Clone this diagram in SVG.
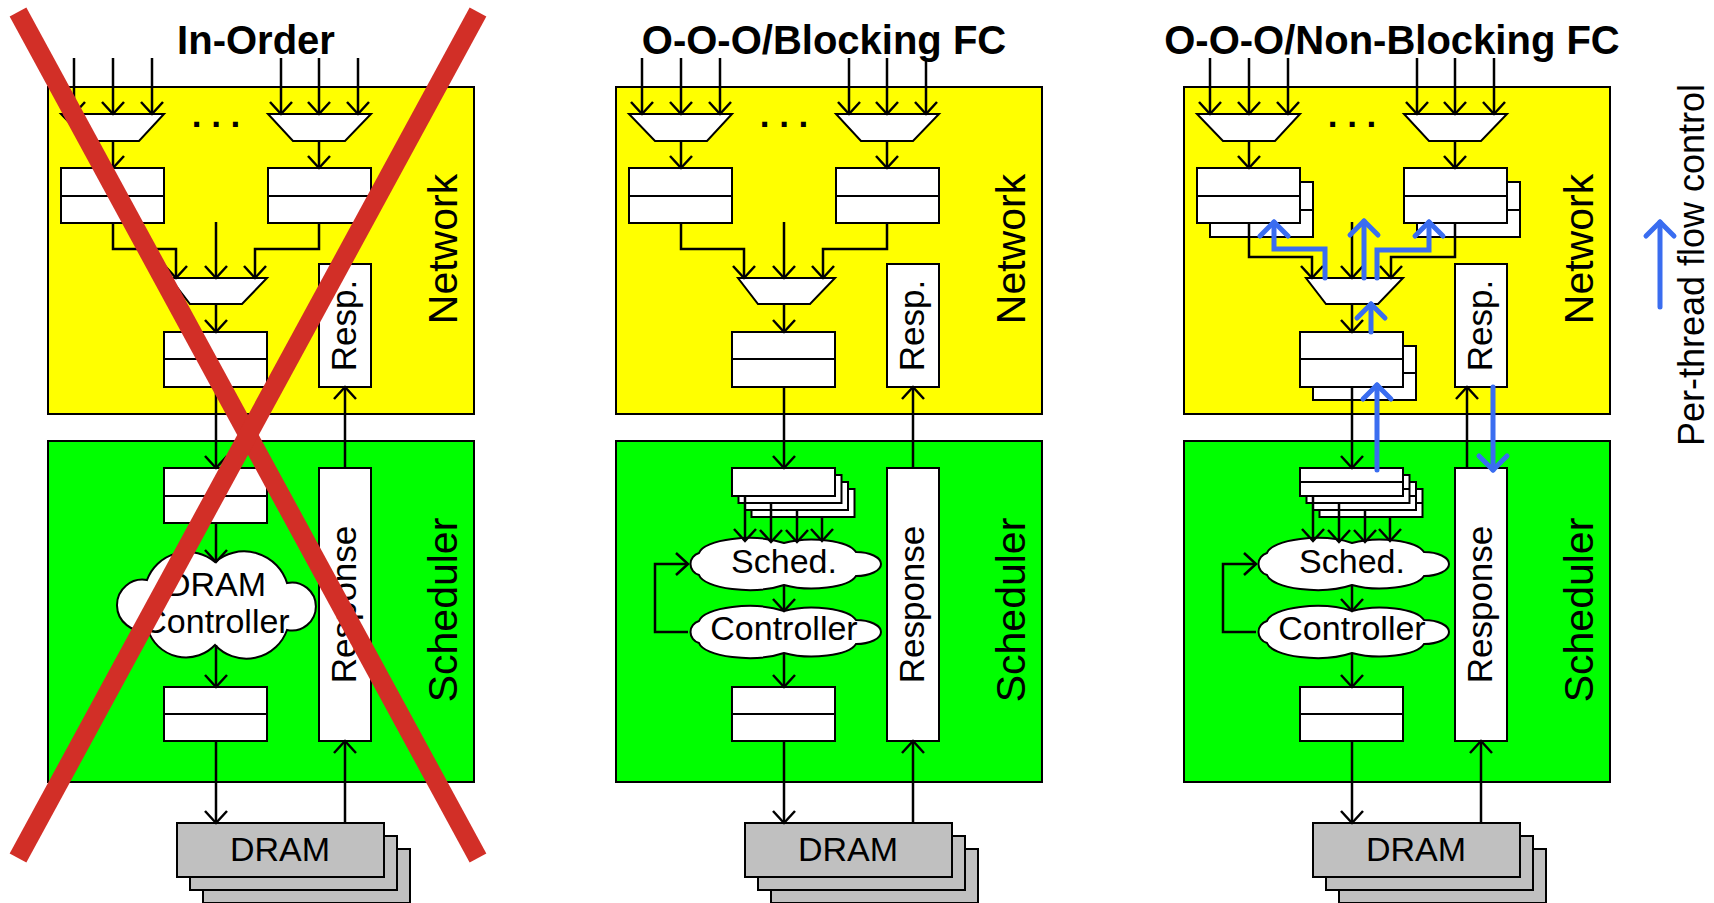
<svg xmlns="http://www.w3.org/2000/svg" xmlns:xlink="http://www.w3.org/1999/xlink" width="1714" height="903" viewBox="0 0 1714 903">
<style>
.box{stroke:#000;stroke-width:2}
.net{fill:#ffff00}
.sch{fill:#00ff00}
.w{fill:#fff;stroke:#000;stroke-width:2}
.dram{fill:#c0c0c0;stroke:#000;stroke-width:2}
.c{fill:none;stroke:#000;stroke-width:2.5;marker-end:url(#ah)}
.b{fill:none;stroke:#3a6df0;stroke-width:5;stroke-linecap:round;marker-end:url(#bh)}
.x{stroke:#d22f27;stroke-width:19}
text{font-family:"Liberation Sans",Arial,sans-serif;fill:#000}
.title{font-size:40px;font-weight:bold;text-anchor:middle}
.lbl{font-size:41px;text-anchor:middle}
.in{font-size:34px;text-anchor:middle}
.rs{font-size:35px;text-anchor:middle}
.dots{font-size:35px;font-weight:bold;text-anchor:middle}
.leg{font-size:36px;text-anchor:middle}
</style>
<defs>
<marker id="ah" markerUnits="userSpaceOnUse" orient="auto" markerWidth="30" markerHeight="30" refX="0" refY="0" overflow="visible">
<path d="M-12,-11 L0,0 L-12,11" fill="none" stroke="#000" stroke-width="2.5"/>
</marker>
<marker id="bh" markerUnits="userSpaceOnUse" orient="auto" markerWidth="30" markerHeight="30" refX="0" refY="0" overflow="visible">
<path d="M-14,-14 L0,0 L-14,14" fill="none" stroke="#3a6df0" stroke-width="5" stroke-linecap="round" stroke-linejoin="round"/>
</marker>
<path id="cf" class="w" d="M-85,11 A12,11.5 0 0 1 -85,-11 A50,17 0 0 1 0,-21 A45,16 0 0 1 72,-12 A25,12 0 0 1 72,12 A45,16 0 0 1 0,21 A50,17 0 0 1 -85,11 Z"/>
<g id="netbase">
<rect class="box net" x="48" y="87" width="426" height="327"/>
<text class="lbl" transform="translate(457,249) rotate(-90)">Network</text>
</g>
<g id="schbase">
<rect class="box sch" x="48" y="441" width="426" height="341"/>
<text class="lbl" transform="translate(457,610) rotate(-90)">Scheduler</text>
</g>
<g id="dramstack">
<rect class="dram" x="203" y="849" width="207" height="54"/>
<rect class="dram" x="190" y="836" width="207" height="54"/>
<rect class="dram" x="177" y="823" width="207" height="54"/>
<text class="in" x="280" y="861">DRAM</text>
</g>
</defs>

<!-- Panel 1: In-Order -->
<g id="panel-inorder">
<text class="title" x="256" y="54">In-Order</text>
<g id="p1-network"><use xlink:href="#netbase"/></g>
<g id="p1-scheduler"><use xlink:href="#schbase"/></g>
<g id="p1-mux-a"><polygon class="w" points="61,114 164,114 139,141 87,141"/></g>
<g id="p1-mux-b"><polygon class="w" points="268,114 371,114 345,141 293,141"/></g>
<text class="dots" x="216" y="127">. . .</text>
<g id="p1-buf-a"><rect class="w" x="61" y="168" width="103" height="55"/><line class="w" x1="61" y1="196" x2="164" y2="196"/></g>
<g id="p1-buf-b"><rect class="w" x="268" y="168" width="103" height="55"/><line class="w" x1="268" y1="196" x2="371" y2="196"/></g>
<g id="p1-mux-c"><polygon class="w" points="170,278 267,278 242,304 190,304"/></g>
<g id="p1-buf-c"><rect class="w" x="164" y="332" width="103" height="55"/><line class="w" x1="164" y1="359" x2="267" y2="359"/></g>
<g id="p1-resp"><rect class="w" x="319" y="264" width="52" height="123"/><text class="rs" transform="translate(356,325.5) rotate(-90)">Resp.</text></g>
<g id="p1-sbuf"><rect class="w" x="164" y="468" width="103" height="55"/><line class="w" x1="164" y1="496" x2="267" y2="496"/></g>
<g id="p1-ctrl"><path class="w" d="M148,630 A25.5,25.5 0 1 1 147,580 A43,43 0 0 1 215,562 A45,45 0 0 1 287,583 A24,24 0 1 1 287,630 A43,43 0 0 1 215,645 A40,40 0 0 1 148,630 Z"/>
<text class="in" x="216" y="596">DRAM</text><text class="in" x="216" y="633">Controller</text></g>
<g id="p1-obuf"><rect class="w" x="164" y="687" width="103" height="54"/><line class="w" x1="164" y1="714" x2="267" y2="714"/></g>
<g id="p1-response"><rect class="w" x="319" y="468" width="52" height="273"/><text class="rs" transform="translate(356,604.5) rotate(-90)">Response</text></g>
<g id="p1-dram"><use xlink:href="#dramstack"/></g>
<g id="p1-connectors">
<path class="c" d="M74,58 V114"/><path class="c" d="M113,58 V114"/><path class="c" d="M152,58 V114"/>
<path class="c" d="M281,58 V114"/><path class="c" d="M319,58 V114"/><path class="c" d="M358,58 V114"/>
<path class="c" d="M113,141 V168"/><path class="c" d="M319,141 V168"/>
<path class="c" d="M113,223 V249 H176 V278"/><path class="c" d="M216,222 V278"/><path class="c" d="M319,223 V249 H255 V278"/>
<path class="c" d="M216,304 V332"/>
<path class="c" d="M216,387 V468"/>
<path class="c" d="M345,468 V387"/>
<path class="c" d="M216,523 V562"/>
<path class="c" d="M216,645 V687"/>
<path class="c" d="M216,741 V823"/>
<path class="c" d="M345,823 V741"/>
</g>
<g id="p1-cross">
<line class="x" x1="18" y1="12" x2="478" y2="858"/>
<line class="x" x1="478" y1="12" x2="18" y2="858"/>
</g>
</g>

<!-- Panel 2: O-O-O/Blocking FC -->
<g id="panel-blocking" transform="translate(568,0)">
<text class="title" x="256" y="54">O-O-O/Blocking FC</text>
<g id="p2-network"><use xlink:href="#netbase"/></g>
<g id="p2-scheduler"><use xlink:href="#schbase"/></g>
<g id="p2-mux-a"><polygon class="w" points="61,114 164,114 139,141 87,141"/></g>
<g id="p2-mux-b"><polygon class="w" points="268,114 371,114 345,141 293,141"/></g>
<text class="dots" x="216" y="127">. . .</text>
<g id="p2-buf-a"><rect class="w" x="61" y="168" width="103" height="55"/><line class="w" x1="61" y1="196" x2="164" y2="196"/></g>
<g id="p2-buf-b"><rect class="w" x="268" y="168" width="103" height="55"/><line class="w" x1="268" y1="196" x2="371" y2="196"/></g>
<g id="p2-mux-c"><polygon class="w" points="170,278 267,278 242,304 190,304"/></g>
<g id="p2-buf-c"><rect class="w" x="164" y="332" width="103" height="55"/><line class="w" x1="164" y1="359" x2="267" y2="359"/></g>
<g id="p2-resp"><rect class="w" x="319" y="264" width="52" height="123"/><text class="rs" transform="translate(356,325.5) rotate(-90)">Resp.</text></g>
<g id="p2-sbuf">
<rect class="w" x="183.5" y="489" width="103" height="28"/>
<rect class="w" x="177" y="482" width="103" height="28"/>
<rect class="w" x="170.5" y="475" width="103" height="28"/>
<rect class="w" x="164" y="468" width="103" height="28"/>
</g>
<g id="p2-sched"><use xlink:href="#cf" x="216" y="564"/><text class="in" x="216" y="573">Sched.</text></g>
<g id="p2-ctrl"><use xlink:href="#cf" x="216" y="632"/><text class="in" x="216" y="640">Controller</text></g>
<g id="p2-obuf"><rect class="w" x="164" y="687" width="103" height="54"/><line class="w" x1="164" y1="714" x2="267" y2="714"/></g>
<g id="p2-response"><rect class="w" x="319" y="468" width="52" height="273"/><text class="rs" transform="translate(356,604.5) rotate(-90)">Response</text></g>
<g id="p2-dram"><use xlink:href="#dramstack"/></g>
<g id="p2-connectors">
<path class="c" d="M74,58 V114"/><path class="c" d="M113,58 V114"/><path class="c" d="M152,58 V114"/>
<path class="c" d="M281,58 V114"/><path class="c" d="M319,58 V114"/><path class="c" d="M358,58 V114"/>
<path class="c" d="M113,141 V168"/><path class="c" d="M319,141 V168"/>
<path class="c" d="M113,223 V249 H176 V278"/><path class="c" d="M216,222 V278"/><path class="c" d="M319,223 V249 H255 V278"/>
<path class="c" d="M216,304 V332"/>
<path class="c" d="M216,387 V468"/>
<path class="c" d="M345,468 V387"/>
<path class="c" d="M177,496 V541"/><path class="c" d="M203,503 V542"/><path class="c" d="M229,510 V542"/><path class="c" d="M254,517 V541"/>
<path class="c" d="M216,585 V611"/>
<path class="c" d="M120,632 H87 V564 H120"/>
<path class="c" d="M216,653 V687"/>
<path class="c" d="M216,741 V823"/>
<path class="c" d="M345,823 V741"/>
</g>
</g>

<!-- Panel 3: O-O-O/Non-Blocking FC -->
<g id="panel-nonblocking" transform="translate(1136,0)">
<text class="title" x="256" y="54">O-O-O/Non-Blocking FC</text>
<g id="p3-network"><use xlink:href="#netbase"/></g>
<g id="p3-scheduler"><use xlink:href="#schbase"/></g>
<g id="p3-mux-a"><polygon class="w" points="61,114 164,114 139,141 87,141"/></g>
<g id="p3-mux-b"><polygon class="w" points="268,114 371,114 345,141 293,141"/></g>
<text class="dots" x="216" y="127">. . .</text>
<g id="p3-buf-a">
<rect class="w" x="74" y="182" width="103" height="55"/><line class="w" x1="74" y1="210" x2="177" y2="210"/>
<rect class="w" x="61" y="168" width="103" height="55"/><line class="w" x1="61" y1="196" x2="164" y2="196"/>
</g>
<g id="p3-buf-b">
<rect class="w" x="281" y="182" width="103" height="55"/><line class="w" x1="281" y1="210" x2="384" y2="210"/>
<rect class="w" x="268" y="168" width="103" height="55"/><line class="w" x1="268" y1="196" x2="371" y2="196"/>
</g>
<g id="p3-mux-c"><polygon class="w" points="170,278 267,278 242,304 190,304"/></g>
<g id="p3-buf-c">
<rect class="w" x="177" y="346" width="103" height="54"/><line class="w" x1="177" y1="373" x2="280" y2="373"/>
<rect class="w" x="164" y="332" width="103" height="55"/><line class="w" x1="164" y1="359" x2="267" y2="359"/>
</g>
<g id="p3-resp"><rect class="w" x="319" y="264" width="52" height="123"/><text class="rs" transform="translate(356,325.5) rotate(-90)">Resp.</text></g>
<g id="p3-sbuf">
<rect class="w" x="183.5" y="489" width="103" height="28"/><line class="w" x1="183.5" y1="503" x2="286.5" y2="503"/>
<rect class="w" x="177" y="482" width="103" height="28"/><line class="w" x1="177" y1="496" x2="280" y2="496"/>
<rect class="w" x="170.5" y="475" width="103" height="28"/><line class="w" x1="170.5" y1="489" x2="273.5" y2="489"/>
<rect class="w" x="164" y="468" width="103" height="28"/><line class="w" x1="164" y1="482" x2="267" y2="482"/>
</g>
<g id="p3-sched"><use xlink:href="#cf" x="216" y="564"/><text class="in" x="216" y="573">Sched.</text></g>
<g id="p3-ctrl"><use xlink:href="#cf" x="216" y="632"/><text class="in" x="216" y="640">Controller</text></g>
<g id="p3-obuf"><rect class="w" x="164" y="687" width="103" height="54"/><line class="w" x1="164" y1="714" x2="267" y2="714"/></g>
<g id="p3-response"><rect class="w" x="319" y="468" width="52" height="273"/><text class="rs" transform="translate(356,604.5) rotate(-90)">Response</text></g>
<g id="p3-dram"><use xlink:href="#dramstack"/></g>
<g id="p3-connectors">
<path class="c" d="M74,58 V114"/><path class="c" d="M113,58 V114"/><path class="c" d="M152,58 V114"/>
<path class="c" d="M281,58 V114"/><path class="c" d="M319,58 V114"/><path class="c" d="M358,58 V114"/>
<path class="c" d="M113,141 V168"/><path class="c" d="M319,141 V168"/>
<path class="c" d="M113,223 V257 H176 V278"/><path class="c" d="M216,222 V278"/><path class="c" d="M319,223 V257 H255 V278"/>
<path class="c" d="M216,304 V332"/>
<path class="c" d="M216,387 V468"/>
<path class="c" d="M331,468 V387"/>
<path class="c" d="M177,496 V541"/><path class="c" d="M203,503 V542"/><path class="c" d="M229,510 V542"/><path class="c" d="M254,517 V541"/>
<path class="c" d="M216,585 V611"/>
<path class="c" d="M120,632 H87 V564 H120"/>
<path class="c" d="M216,653 V687"/>
<path class="c" d="M216,741 V823"/>
<path class="c" d="M345,823 V741"/>
</g>
<g id="p3-flowcontrol">
<path class="b" d="M189,278 V249 H138 V222"/>
<path class="b" d="M228,278 V221"/>
<path class="b" d="M241,278 V250 H293 V222"/>
<path class="b" d="M235,332 V304"/>
<path class="b" d="M241,470 V385"/>
<path class="b" d="M357,387 V470"/>
</g>
</g>

<!-- Legend -->
<g id="legend">
<path class="b" d="M1660,307 V222"/>
<text class="leg" transform="translate(1704,265) rotate(-90)">Per-thread flow control</text>
</g>
</svg>
